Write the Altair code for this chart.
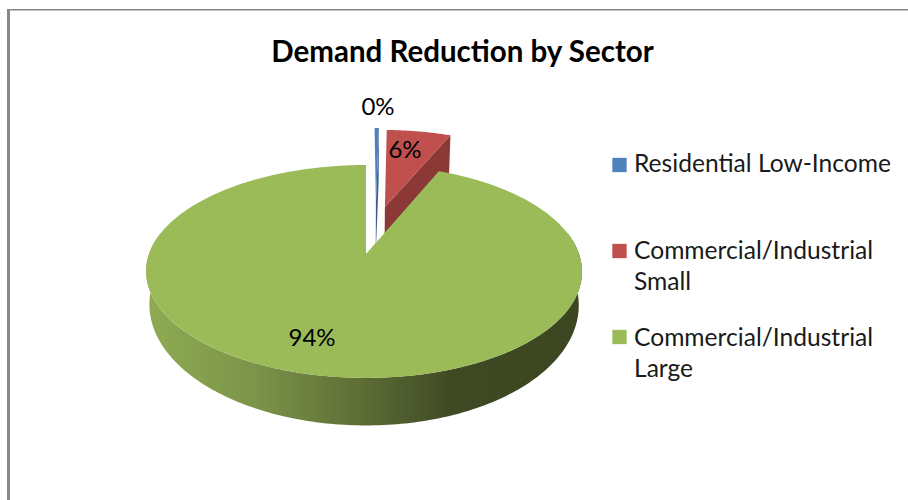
import math
import altair as alt

# Sector shares in percent, clockwise from twelve o'clock
sectors = ["Residential Low-Income", "Commercial/Industrial Small", "Commercial/Industrial Large"]
shares = [0.4, 6.0, 93.6]
top_colors = ["#4F81BD", "#C0504D", "#9BBB59"]
wall_colors = ["#3A5F8D", "#8C3836", "#7F9A48"]
legend_lines = [["Residential Low-Income"], ["Commercial/Industrial", "Small"], ["Commercial/Industrial", "Large"]]

W, H = 908, 500
FONT = "Lato"

# Perspective pie: a unit disc projected on screen around a common hub
HUB_X, HUB_Y = 366.0, 254.0
SPREAD_X, SPREAD_Y, TILT, LEAN = 215.0, 103.6, -0.164, 2.0
# Explosion of each slice on the disc (u to the right, v towards the viewer)
explode = [(0.05, -0.52), (0.095, -0.49), (0.0, 0.0)]
# Lower edge of the radial cut faces
RIM_SCALE, RIM_DROP = 0.977, 51.0
# Lower edge of the outer wall: narrower and seen at a steeper angle than the top
WALL_SCALE, MID_Y, WALL_DROP, WALL_STRETCH = 0.985, 271.5, 33.5, 1.132


def project(u, v):
    w = 1 + TILT * v
    return HUB_X + SPREAD_X * u / w - LEAN * u * u, HUB_Y + SPREAD_Y * v / w


def lower(pt):
    return [HUB_X + RIM_SCALE * (pt[0] - HUB_X), HUB_Y + RIM_SCALE * (pt[1] - HUB_Y) + RIM_DROP]


def lower_wall(pt):
    return [HUB_X + WALL_SCALE * (pt[0] - HUB_X), MID_Y + WALL_DROP + WALL_STRETCH * (pt[1] - MID_Y)]


def rim(theta, off):
    t = math.radians(theta)
    return list(project(math.sin(t) + off[0], -math.cos(t) + off[1]))


def arc_points(a, b, off, step=1.0):
    n = max(2, int(abs(b - a) / step) + 1)
    return [rim(a + (b - a) * i / (n - 1), off) for i in range(n)]


def feature(ring):
    ring = ring + [ring[0]]
    return {"type": "Feature", "properties": {}, "geometry": {"type": "Polygon", "coordinates": [ring]}}


projection = alt.Projection(type="identity", scale=1, translate=[0, 0])


def shape(ring, fill):
    data = alt.Data(values={"type": "FeatureCollection", "features": [feature(ring)]},
                    format=alt.DataFormat(property="features"))
    return alt.Chart(data).mark_geoshape(fill=fill, strokeWidth=0, stroke="transparent").project(**projection.to_dict())


# Slice boundaries in degrees
bounds, acc = [], 0.0
for s in shares:
    bounds.append((acc * 3.6, (acc + s) * 3.6))
    acc += s

layers = []

# Frame lines along the left and top edges
frame_left = alt.Chart(alt.Data(values=[{}])).mark_rule(color="#868686", strokeWidth=3).encode(
    x=alt.value(8.5), y=alt.value(9), y2=alt.value(H))
frame_top = alt.Chart(alt.Data(values=[{}])).mark_rule(color="#868686", strokeWidth=1.5).encode(
    x=alt.value(7), x2=alt.value(W), y=alt.value(9.7))
layers += [frame_left, frame_top]

# Exploded slices: the radial cut face first, the top face above it
for i in (0, 1):
    a, b = bounds[i]
    hub = list(project(*explode[i]))
    outer = rim(b, explode[i])
    layers.append(shape([hub, outer, lower(outer), lower(hub)], wall_colors[i]))
    layers.append(shape([hub] + arc_points(a, b, explode[i], 0.5), top_colors[i]))

# Largest slice: shaded outer wall under its top face
a, b = bounds[2]
off = explode[2]
front = arc_points(78, 282, off)
wall_fill = alt.Gradient(
    gradient="linear", x1=0, x2=1, y1=0, y2=0,
    stops=[
        alt.GradientStop(offset=0.0, color="#8EAB53"),
        alt.GradientStop(offset=0.25, color="#7C9449"),
        alt.GradientStop(offset=0.5, color="#5C6C35"),
        alt.GradientStop(offset=0.7, color="#3F4A24"),
        alt.GradientStop(offset=1.0, color="#3C4722"),
    ],
)
layers.append(shape(front + [lower_wall(p) for p in reversed(front)], wall_fill))
layers.append(shape([list(project(*off))] + arc_points(a, b, off), top_colors[2]))

pixel_x = alt.Scale(domain=[0, W], range=[0, W])
pixel_y = alt.Scale(domain=[0, H], range=[0, H])

# Percentage labels
label_rows = [
    {"x": 378, "y": 108, "t": f"{round(shares[0])}%"},
    {"x": 405, "y": 151, "t": f"{round(shares[1])}%"},
    {"x": 312, "y": 339, "t": f"{round(shares[2])}%"},
]
labels = alt.Chart(alt.Data(values=label_rows)).mark_text(font=FONT, fontSize=24, color="#000000").encode(
    x=alt.X("x:Q", scale=pixel_x, axis=None), y=alt.Y("y:Q", scale=pixel_y, axis=None), text="t:N")

# Chart heading
heading = alt.Chart(alt.Data(values=[{"x": 462.5, "y": 53, "t": "Demand Reduction by Sector"}])).mark_text(
    font=FONT, fontSize=29.5, fontWeight="bold", color="#000000").encode(
    x=alt.X("x:Q", scale=pixel_x, axis=None), y=alt.Y("y:Q", scale=pixel_y, axis=None), text="t:N")

# Legend swatches and wrapped entries
swatch_y = [165, 251, 337]
line_y = [[165], [252, 283], [339, 370]]
swatch_rows = [{"x": 619.5, "y": y, "c": c} for y, c in zip(swatch_y, top_colors)]
swatches = alt.Chart(alt.Data(values=swatch_rows)).mark_square(opacity=1, size=205).encode(
    x=alt.X("x:Q", scale=pixel_x, axis=None), y=alt.Y("y:Q", scale=pixel_y, axis=None),
    color=alt.Color("c:N", scale=None))
text_rows = [
    {"x": 634, "y": y, "t": t}
    for lines, ys in zip(legend_lines, line_y)
    for t, y in zip(lines, ys)
]
legend_text = alt.Chart(alt.Data(values=text_rows)).mark_text(
    font=FONT, fontSize=24.6, align="left", color="#1a1a1a").encode(
    x=alt.X("x:Q", scale=pixel_x, axis=None), y=alt.Y("y:Q", scale=pixel_y, axis=None), text="t:N")

chart = alt.layer(*layers, labels, heading, swatches, legend_text).properties(
    width=W, height=H, padding=0,
    autosize=alt.AutoSizeParams(type="none"),
    background="#FFFFFF",
).configure_view(stroke=None)

chart.save("out.html", embed_options={"renderer": "svg", "actions": False})
